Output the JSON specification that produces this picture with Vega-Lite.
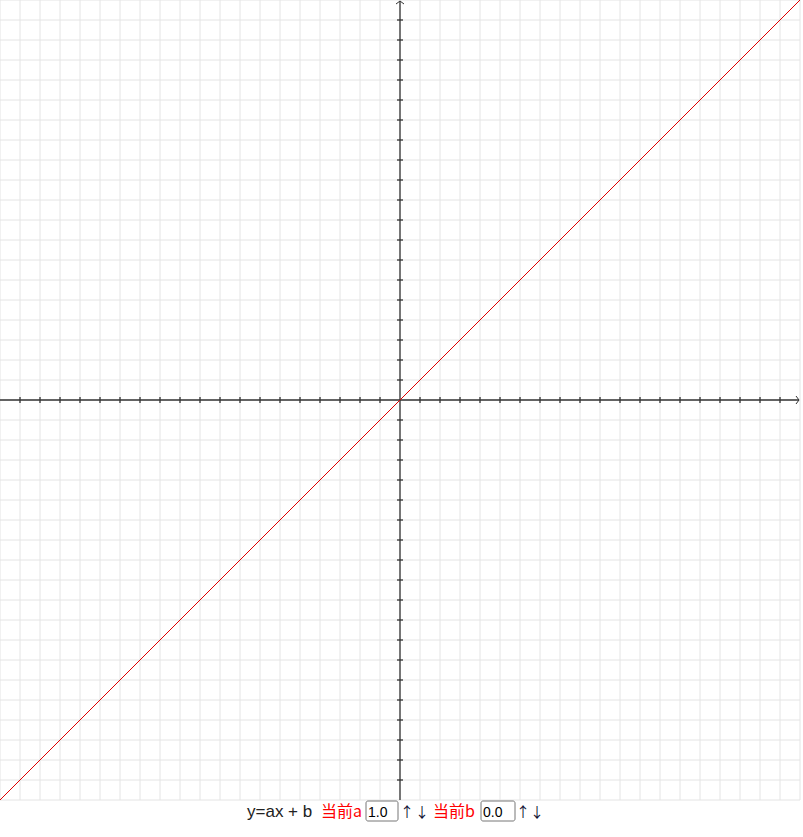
{
  "$schema": "https://vega.github.io/schema/vega-lite/v6.json",
  "width": 800,
  "height": 800,
  "padding": {"left": 0, "top": 0, "right": 3, "bottom": 37},
  "autosize": "none",
  "background": "white",
  "config": {"view": {"stroke": null}},
  "datasets": {
    "grid": [{"v": -20}, {"v": -19}, {"v": -18}, {"v": -17}, {"v": -16}, {"v": -15}, {"v": -14}, {"v": -13}, {"v": -12}, {"v": -11}, {"v": -10}, {"v": -9}, {"v": -8}, {"v": -7}, {"v": -6}, {"v": -5}, {"v": -4}, {"v": -3}, {"v": -2}, {"v": -1}, {"v": 0}, {"v": 1}, {"v": 2}, {"v": 3}, {"v": 4}, {"v": 5}, {"v": 6}, {"v": 7}, {"v": 8}, {"v": 9}, {"v": 10}, {"v": 11}, {"v": 12}, {"v": 13}, {"v": 14}, {"v": 15}, {"v": 16}, {"v": 17}, {"v": 18}, {"v": 19}, {"v": 20}],
    "ticks": [{"v": -19}, {"v": -18}, {"v": -17}, {"v": -16}, {"v": -15}, {"v": -14}, {"v": -13}, {"v": -12}, {"v": -11}, {"v": -10}, {"v": -9}, {"v": -8}, {"v": -7}, {"v": -6}, {"v": -5}, {"v": -4}, {"v": -3}, {"v": -2}, {"v": -1}, {"v": 1}, {"v": 2}, {"v": 3}, {"v": 4}, {"v": 5}, {"v": 6}, {"v": 7}, {"v": 8}, {"v": 9}, {"v": 10}, {"v": 11}, {"v": 12}, {"v": 13}, {"v": 14}, {"v": 15}, {"v": 16}, {"v": 17}, {"v": 18}, {"v": 19}],
    "line": [{"x": -20, "y": -20}, {"x": 20, "y": 20}],
    "arrows": [
      {"g": "right", "o": 1, "x": 19.8, "y": 0.2},
      {"g": "right", "o": 2, "x": 19.95, "y": 0},
      {"g": "right", "o": 3, "x": 19.8, "y": -0.2},
      {"g": "top", "o": 1, "x": -0.2, "y": 19.8},
      {"g": "top", "o": 2, "x": 0, "y": 19.95},
      {"g": "top", "o": 3, "x": 0.2, "y": 19.8}
    ],
    "blackText": [{"t": "y=ax + b", "x": -7.65, "y": -20.85}],
    "redText": [{"t": "当前a", "x": -3.95, "y": -20.85}, {"t": "当前b", "x": 1.65, "y": -20.85}],
    "arrowText": [{"t": "↑", "x": 0.35, "y": -20.85}, {"t": "↓", "x": 1.1, "y": -20.85}, {"t": "↑", "x": 6.15, "y": -20.85}, {"t": "↓", "x": 6.85, "y": -20.85}],
    "boxes": [{"x": -1.7, "x2": -0.1, "y": -20.05, "y2": -21.05}, {"x": 4.05, "x2": 5.75, "y": -20.05, "y2": -21.05}],
    "boxText": [{"t": "1.0", "x": -1.6, "y": -20.85}, {"t": "0.0", "x": 4.15, "y": -20.85}]
  },
  "layer": [
    {
      "data": {"name": "grid"},
      "mark": {"type": "rule", "color": "#e4e4e4", "strokeWidth": 1},
      "encoding": {
        "x": {"field": "v", "type": "quantitative", "scale": {"domain": [-20, 20], "nice": false, "zero": false}, "axis": null},
        "y": {"datum": -20, "type": "quantitative", "scale": {"domain": [-20, 20], "nice": false, "zero": false}, "axis": null},
        "y2": {"datum": 20}
      }
    },
    {
      "data": {"name": "grid"},
      "mark": {"type": "rule", "color": "#e4e4e4", "strokeWidth": 1},
      "encoding": {
        "y": {"field": "v", "type": "quantitative"},
        "x": {"datum": -20, "type": "quantitative"},
        "x2": {"datum": 20}
      }
    },
    {
      "data": {"values": [{"a": 1}]},
      "mark": {"type": "rule", "color": "#333", "strokeWidth": 1.3},
      "encoding": {
        "x": {"datum": 0, "type": "quantitative"},
        "y": {"datum": -20, "type": "quantitative"},
        "y2": {"datum": 19.95}
      }
    },
    {
      "data": {"values": [{"a": 1}]},
      "mark": {"type": "rule", "color": "#333", "strokeWidth": 1.3},
      "encoding": {
        "y": {"datum": 0, "type": "quantitative"},
        "x": {"datum": -20, "type": "quantitative"},
        "x2": {"datum": 19.95}
      }
    },
    {
      "data": {"name": "ticks"},
      "mark": {"type": "rule", "color": "#333", "strokeWidth": 1.3},
      "encoding": {
        "y": {"field": "v", "type": "quantitative"},
        "x": {"datum": -0.15, "type": "quantitative"},
        "x2": {"datum": 0.15}
      }
    },
    {
      "data": {"name": "ticks"},
      "mark": {"type": "rule", "color": "#333", "strokeWidth": 1.3},
      "encoding": {
        "x": {"field": "v", "type": "quantitative"},
        "y": {"datum": -0.15, "type": "quantitative"},
        "y2": {"datum": 0.15}
      }
    },
    {
      "data": {"name": "arrows"},
      "mark": {"type": "line", "color": "#333", "strokeWidth": 1},
      "encoding": {
        "x": {"field": "x", "type": "quantitative"},
        "y": {"field": "y", "type": "quantitative"},
        "detail": {"field": "g"},
        "order": {"field": "o"}
      }
    },
    {
      "data": {"name": "line"},
      "mark": {"type": "line", "color": "#e00000", "strokeWidth": 1},
      "encoding": {
        "x": {"field": "x", "type": "quantitative"},
        "y": {"field": "y", "type": "quantitative"}
      }
    },
    {
      "data": {"name": "boxes"},
      "mark": {"type": "rect", "fill": "white", "stroke": "#767676", "strokeWidth": 1, "cornerRadius": 2},
      "encoding": {
        "x": {"field": "x", "type": "quantitative"},
        "x2": {"field": "x2"},
        "y": {"field": "y", "type": "quantitative"},
        "y2": {"field": "y2"}
      }
    },
    {
      "data": {"name": "blackText"},
      "mark": {"type": "text", "align": "left", "baseline": "alphabetic", "font": "Liberation Sans", "fontSize": 17, "color": "#222"},
      "encoding": {
        "x": {"field": "x", "type": "quantitative"},
        "y": {"field": "y", "type": "quantitative"},
        "text": {"field": "t"}
      }
    },
    {
      "data": {"name": "redText"},
      "mark": {"type": "text", "align": "left", "baseline": "alphabetic", "font": "Noto Sans CJK SC", "fontSize": 16, "color": "red"},
      "encoding": {
        "x": {"field": "x", "type": "quantitative"},
        "y": {"field": "y", "type": "quantitative"},
        "text": {"field": "t"}
      }
    },
    {
      "data": {"name": "arrowText"},
      "mark": {"type": "text", "align": "center", "baseline": "alphabetic", "font": "Noto Sans CJK SC", "fontSize": 14, "color": "#111133"},
      "encoding": {
        "x": {"field": "x", "type": "quantitative"},
        "y": {"field": "y", "type": "quantitative"},
        "text": {"field": "t"}
      }
    },
    {
      "data": {"name": "boxText"},
      "mark": {"type": "text", "align": "left", "baseline": "alphabetic", "font": "Liberation Sans", "fontSize": 14, "color": "#000"},
      "encoding": {
        "x": {"field": "x", "type": "quantitative"},
        "y": {"field": "y", "type": "quantitative"},
        "text": {"field": "t"}
      }
    }
  ]
}
